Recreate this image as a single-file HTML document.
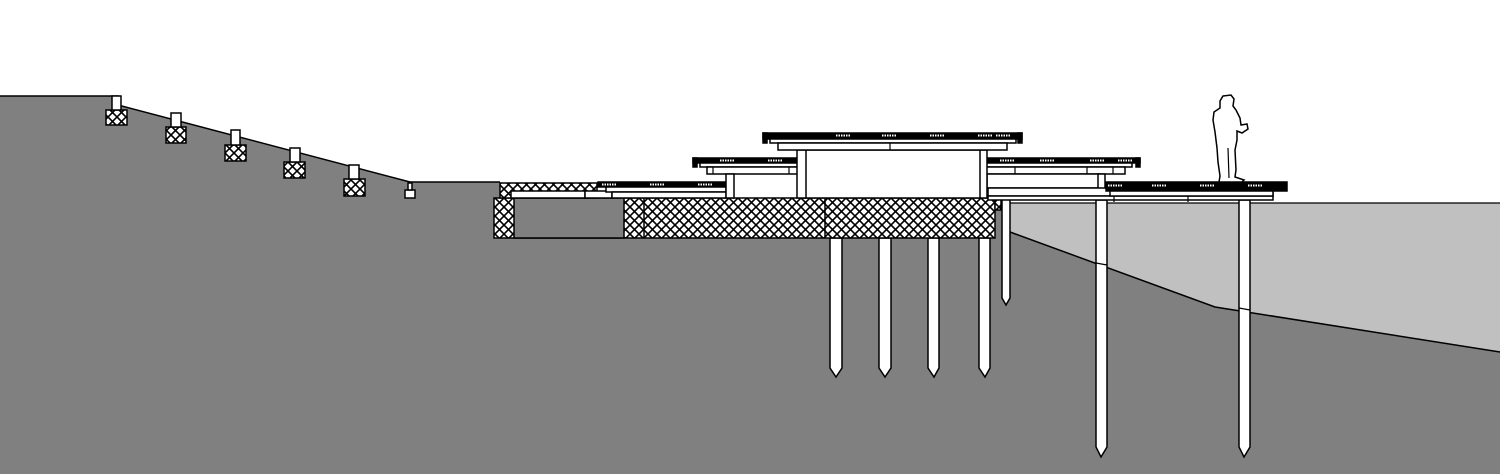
<!DOCTYPE html>
<html><head><meta charset="utf-8"><style>html,body{margin:0;padding:0;background:#fff}svg{display:block}</style></head>
<body>
<svg width="1500" height="474" viewBox="0 0 1500 474" xmlns="http://www.w3.org/2000/svg">
<defs>
<pattern id="h" width="9" height="9" patternUnits="userSpaceOnUse">
<rect width="9" height="9" fill="#fff"/>
<path d="M0,0L9,9M9,0L0,9" stroke="#000" stroke-width="1.6"/>
</pattern>
</defs>
<rect width="1500" height="474" fill="#fff"/>
<path d="M0,96 L118,96 L118,105 L410,182 L500,182 L500,198 L1010,198 L1010,232 L1215,307 L1500,352 L1500,474 L0,474 Z" fill="#808080"/>
<path d="M0,96 L118,96 L118,105 L410,182 L500,182" fill="none" stroke="#000" stroke-width="1.5"/>
<path d="M1008,203 L1500,203 L1500,352 L1215,307 L1010,232 Z" fill="#c0c0c0"/>
<path d="M1008,203 L1500,203" stroke="#000" stroke-width="1.2"/>
<path d="M1010,232 L1215,307 L1500,352" fill="none" stroke="#000" stroke-width="1.5"/>
<g stroke="#000" stroke-width="1.5">
<rect x="106" y="110" width="21" height="15" fill="url(#h)"/><rect x="112" y="96" width="9" height="14" fill="#fff"/>
<rect x="166" y="127" width="20" height="16" fill="url(#h)"/><rect x="171" y="113" width="10" height="14" fill="#fff"/>
<rect x="225" y="145" width="21" height="16" fill="url(#h)"/><rect x="231" y="130" width="9" height="15" fill="#fff"/>
<rect x="284" y="162" width="21" height="16" fill="url(#h)"/><rect x="290" y="148" width="10" height="14" fill="#fff"/>
<rect x="344" y="179" width="21" height="17" fill="url(#h)"/><rect x="349" y="165" width="10" height="14" fill="#fff"/>
<rect x="405" y="190" width="10" height="8" fill="#fff"/><rect x="408" y="183" width="4" height="7" fill="#fff"/>
</g>
<g fill="#fff" stroke="#000" stroke-width="1.5">
<path d="M830,238 L842,238 L842,368 L836,377 L830,368 Z"/>
<path d="M879,238 L891,238 L891,368 L885,377 L879,368 Z"/>
<path d="M928,238 L939,238 L939,368 L934,377 L928,368 Z"/>
<path d="M979,238 L990,238 L990,368 L985,377 L979,368 Z"/>
<path d="M1002,199 L1010,199 L1010,298 L1006,305 L1002,298 Z"/>
<path d="M1096,200 L1107,200 L1107,447 L1101,457 L1096,447 Z"/>
<path d="M1239,200 L1250,200 L1250,447 L1244,457 L1239,447 Z"/>
</g>
<path d="M1096,263 L1107,265 M1239,308 L1250,310" stroke="#000" stroke-width="1.2"/>
<g stroke="#000" stroke-width="1.5">
<rect x="494" y="198" width="501" height="40" fill="url(#h)"/>
<rect x="514" y="198" width="110" height="40" fill="#808080"/>
<path d="M644,198V238M825,198V238" fill="none"/>
<rect x="995" y="198" width="6" height="12" fill="url(#h)"/>
<rect x="500" y="183" width="97" height="15" fill="url(#h)"/>
<rect x="511" y="191" width="74" height="7" fill="#fff"/>
<rect x="585" y="191" width="27" height="7" fill="#fff"/>
<rect x="598" y="182" width="128" height="5" fill="#000"/>
<rect x="606" y="187" width="120" height="5" fill="#fff"/>
<rect x="612" y="192" width="114" height="6" fill="#fff"/>
<rect x="693" y="158" width="447" height="5" fill="#000"/>
<rect x="693" y="158" width="4" height="9" fill="#000"/>
<rect x="1136" y="158" width="4" height="9" fill="#000"/>
<rect x="700" y="163" width="432" height="4" fill="#fff"/>
<rect x="707" y="167" width="418" height="7" fill="#fff"/>
<rect x="726" y="174" width="8" height="24" fill="#fff"/>
<rect x="987" y="174" width="113" height="14" fill="#fff"/>
<rect x="1098" y="174" width="7" height="16" fill="#fff"/>
<rect x="988" y="188" width="285" height="8" fill="#fff"/>
<rect x="988" y="196" width="285" height="4" fill="#fff"/>
<rect x="1106" y="182" width="181" height="9" fill="#000"/>
<rect x="1110" y="191" width="163" height="5" fill="#fff"/>
<rect x="800" y="150" width="181" height="48" fill="#fff"/>
<rect x="797" y="150" width="9" height="48" fill="#fff"/>
<rect x="980" y="150" width="7" height="48" fill="#fff"/>
<rect x="763" y="133" width="259" height="6" fill="#000"/>
<rect x="763" y="133" width="4" height="10" fill="#000"/>
<rect x="1018" y="133" width="4" height="10" fill="#000"/>
<rect x="770" y="139" width="246" height="4" fill="#fff"/>
<rect x="778" y="143" width="229" height="7" fill="#fff"/>
</g>
<path d="M890,143V150" stroke="#000" stroke-width="1.2"/>
<g stroke="#fff" stroke-width="2" stroke-dasharray="1.5,1">
<path d="M836,135.5h15M882,135.5h15M930,135.5h15M978,135.5h15M996,135.5h15"/>
<path d="M720,160.5h15M768,160.5h15M1000,160.5h15M1040,160.5h15M1090,160.5h15M1118,160.5h15"/>
<path d="M602,184.5h15M650,184.5h15M698,184.5h15"/>
<path d="M1108,185.5h15M1152,185.5h15M1200,185.5h15M1248,185.5h15"/>
</g>
<g stroke="#000" stroke-width="1.2">
<path d="M713,167v7M789,167v7M1015,167v7M1087,167v7M1113,167v7M1114,196v6M1188,196v6"/>
</g>
<path d="M1223,96 L1231,95 L1234,99 L1233,106 L1236,110 L1240,118 L1241,125 L1247,124 L1248,129 L1242,133 L1237,131 L1237,140 L1235,150 L1236,170 L1235,177 L1244,180 L1242,182 L1219,182 L1220,176 L1218,162 L1217,148 L1215,132 L1213,120 L1214,112 L1220,108 L1220,101 Z" fill="#fff" stroke="#000" stroke-width="1.5"/>
<path d="M1228,148 L1229,178" stroke="#000" stroke-width="1.2"/>
</svg>
</body></html>
